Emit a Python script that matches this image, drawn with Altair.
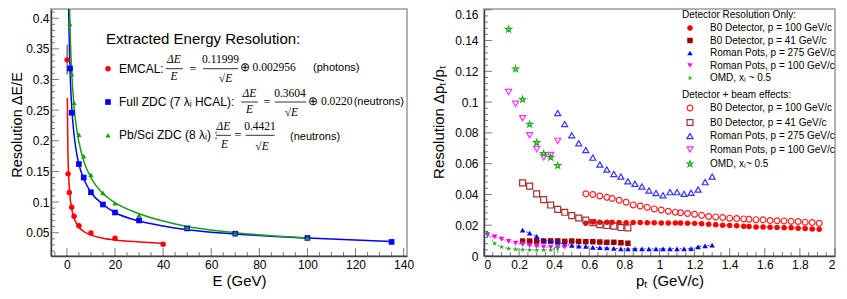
import altair as alt
import pandas as pd

FONT = "Liberation Sans"
SERIF = "Liberation Serif"

# ---------------- Left panel data ----------------
emcal_E = [0.1, 0.5, 1, 2, 3, 5, 10, 20, 40]
emcal_res = [0.332, 0.146, 0.1156, 0.0914, 0.077, 0.0613, 0.0495, 0.0409, 0.031]
emcal_err_E = [0.1]
emcal_err_lo = [0.308]
emcal_err_hi = [0.357]

zdc_E = [1.3, 2, 5, 7, 10, 15, 20, 30, 50, 70, 100, 135]
zdc_res = [0.318, 0.2457, 0.162, 0.140, 0.116, 0.096, 0.083, 0.070, 0.057, 0.0484, 0.0414, 0.035]

pbsci_E = [1.2, 2, 3, 5, 7, 10, 15, 20, 30, 50, 70, 100]
pbsci_res = [0.391, 0.309, 0.262, 0.21, 0.175, 0.1446, 0.115, 0.098, 0.0785, 0.058, 0.049, 0.0414]

emcal_fit_E = [0.2, 0.3, 0.5, 0.75, 1, 1.5, 2, 3, 4, 5, 7, 10, 15, 20, 30, 40]
emcal_fit_res = [0.27, 0.222, 0.172, 0.142, 0.124, 0.102, 0.089, 0.074, 0.065, 0.059, 0.052, 0.046, 0.041, 0.038, 0.035, 0.033]
zdc_fit_E = [0.75, 1, 1.5, 2, 3, 4, 5, 7, 10, 15, 20, 30, 40, 50, 70, 100, 135]
zdc_fit_res = [0.415, 0.36, 0.295, 0.256, 0.209, 0.181, 0.162, 0.138, 0.116, 0.096, 0.083, 0.069, 0.061, 0.055, 0.048, 0.0412, 0.0355]
pbsci_fit_E = [1.13, 1.5, 2, 3, 4, 5, 7, 10, 15, 20, 30, 40, 50, 70, 100]
pbsci_fit_res = [0.415, 0.361, 0.313, 0.255, 0.221, 0.198, 0.167, 0.140, 0.114, 0.099, 0.081, 0.069, 0.060, 0.050, 0.0415]

# ---------------- Right panel data ----------------
pt_b0_100 = [0.58, 0.62, 0.66, 0.70, 0.73, 0.77, 0.81, 0.85, 0.89, 0.93, 0.97, 1.01, 1.05, 1.09, 1.12, 1.16,
             1.20, 1.24, 1.28, 1.32, 1.36, 1.40, 1.44, 1.48, 1.51, 1.55, 1.59, 1.63, 1.67, 1.71, 1.75, 1.79,
             1.83, 1.87, 1.91]
b0_100_det = [0.0213, 0.0221, 0.0219, 0.0220, 0.0219, 0.0217, 0.0216, 0.0217, 0.0217, 0.0216, 0.0216, 0.0215,
              0.0215, 0.0214, 0.0214, 0.0213, 0.0212, 0.0209, 0.0206, 0.0203, 0.0200, 0.0198, 0.0196, 0.0193,
              0.0191, 0.0189, 0.0188, 0.0187, 0.0186, 0.0184, 0.0183, 0.0181, 0.0179, 0.0176, 0.0174]
b0_100_beam = [0.0404, 0.0400, 0.0390, 0.0381, 0.0374, 0.0362, 0.0349, 0.0332, 0.0325, 0.0316, 0.0306, 0.0299,
               0.0291, 0.0285, 0.0281, 0.0276, 0.0271, 0.0264, 0.0257, 0.0254, 0.0250, 0.0246, 0.0243, 0.0241,
               0.0239, 0.0236, 0.0235, 0.0231, 0.0229, 0.0228, 0.0225, 0.0224, 0.0220, 0.0217, 0.0213]

pt_b0_41 = [0.22, 0.26, 0.30, 0.34, 0.38, 0.42, 0.46, 0.50, 0.54, 0.58, 0.62, 0.66, 0.70, 0.74, 0.78, 0.82]
b0_41_det = [0.0097, 0.0097, 0.0097, 0.0097, 0.0098, 0.0098, 0.0095, 0.0097, 0.0095, 0.0093, 0.0093, 0.0091,
             0.0089, 0.0089, 0.0086, 0.0083]
b0_41_beam = [0.0475, 0.0454, 0.0404, 0.0366, 0.0331, 0.0303, 0.0284, 0.0262, 0.0247, 0.0234, 0.0217, 0.0204,
              0.0198, 0.0194, 0.0185, 0.0183]

pt_rp275_det = [0.22, 0.26, 0.30, 0.34, 0.38, 0.42, 0.46, 0.50, 0.54, 0.58, 0.62, 0.66, 0.70, 0.74, 0.78, 0.82,
                0.86, 0.90, 0.94, 0.98, 1.02, 1.06, 1.10, 1.14, 1.18, 1.22, 1.26, 1.30]
rp275_det = [0.0168, 0.0148, 0.0127, 0.0103, 0.0095, 0.0088, 0.0077, 0.0069, 0.0064, 0.0062, 0.0056, 0.0054,
             0.0052, 0.0050, 0.0047, 0.0047, 0.0047, 0.0046, 0.0046, 0.0046, 0.0046, 0.0047, 0.0047, 0.0047,
             0.0048, 0.0060, 0.0066, 0.0071]
pt_rp275_beam = [0.42, 0.46, 0.50, 0.54, 0.58, 0.62, 0.66, 0.70, 0.74, 0.78, 0.82, 0.86, 0.90, 0.94, 0.98, 1.02,
                 1.06, 1.10, 1.14, 1.18, 1.22, 1.26, 1.30]
rp275_beam = [0.0929, 0.0857, 0.0785, 0.0733, 0.0688, 0.0639, 0.0594, 0.0562, 0.0533, 0.0516, 0.0485, 0.0469,
              0.0452, 0.0426, 0.0409, 0.0394, 0.0415, 0.0415, 0.0404, 0.0411, 0.0432, 0.0480, 0.0516]

pt_rp100_det = [0.02, 0.06, 0.10, 0.14, 0.18, 0.22, 0.26, 0.30, 0.34, 0.38, 0.42, 0.46]
rp100_det = [0.0135, 0.0125, 0.0110, 0.0095, 0.0084, 0.0075, 0.0068, 0.0062, 0.0058, 0.0056, 0.0055, 0.0058]
pt_rp100_beam = [0.14, 0.18, 0.22, 0.26, 0.30, 0.34, 0.38, 0.42]
rp100_beam = [0.1065, 0.0989, 0.0895, 0.0785, 0.0695, 0.0641, 0.0656, 0.0748]

pt_omd_det = [0.02, 0.06, 0.10, 0.14, 0.18, 0.22, 0.26, 0.30, 0.34, 0.38, 0.42]
omd_det = [0.0150, 0.0082, 0.0058, 0.0048, 0.0044, 0.0041, 0.0040, 0.0039, 0.0039, 0.0039, 0.0054]
omd_err_pt = [0.42]
omd_err_lo = [0.0019]
omd_err_hi = [0.0075]
pt_omd_beam = [0.14, 0.18, 0.22, 0.26, 0.30, 0.34, 0.38, 0.42]
omd_beam = [0.1473, 0.1215, 0.1017, 0.0856, 0.0737, 0.0665, 0.0641, 0.0587]

labels_det = ["B0 Detector, p = 100 GeV/c", "B0 Detector, p = 41 GeV/c", "Roman Pots, p = 275 GeV/c",
              "Roman Pots, p = 100 GeV/c", "OMD, xₗ ~ 0.5"]
labels_beam = ["B0 Detector, p = 100 GeV/c", "B0 Detector, p = 41 GeV/c", "Roman Pots, p = 275 GeV/c",
               "Roman Pots, p = 100 GeV/c", "OMD, xₗ~ 0.5"]

# axis tick values
l_xmaj = [0, 20, 40, 60, 80, 100, 120, 140]
l_ymaj = [0.05, 0.1, 0.15, 0.2, 0.25, 0.3, 0.35, 0.4]
r_xmaj = [0, 0.2, 0.4, 0.6, 0.8, 1, 1.2, 1.4, 1.6, 1.8, 2]
r_ymaj = [0, 0.02, 0.04, 0.06, 0.08, 0.1, 0.12, 0.14, 0.16]

# ---------------- styles ----------------
STAR = "M0,-1L0.2245,-0.309L0.951,-0.309L0.363,0.118L0.588,0.809L0,0.382L-0.588,0.809L-0.363,0.118L-0.951,-0.309L-0.2245,-0.309Z"
det_colors = ["#ff0000", "#990000", "#0000ff", "#ff00ff", "#22aa22"]
det_shapes = ["circle", "square", "triangle-up", "triangle-down", STAR]
det_sizes = [30, 30, 30, 30, 14]
beam_colors = ["#ff2020", "#a03030", "#3333ff", "#ff33ff", "#22aa22"]
beam_shapes = ["circle", "square", "triangle-up", "triangle-down", STAR]
beam_sizes = [34, 38, 42, 42, 70]

W1, W2, H = 356, 351, 247
TICK = "#444"

one = pd.DataFrame({"k": [0]})


def text(s, x, y, size=12, font=FONT, align="left", style="normal"):
    return alt.Chart(one).mark_text(text=s, font=font, fontSize=size, align=align, baseline="middle",
                                    fontStyle=style, color="black").encode(x=alt.value(x), y=alt.value(y))


def hbar(x1, x2, y):
    return alt.Chart(one).mark_rule(color="black", strokeWidth=0.8).encode(
        x=alt.value(x1), x2=alt.value(x2), y=alt.value(y))


def symbol(shape, color, x, y, size=30):
    return alt.Chart(one).mark_point(shape=shape, filled=True, color=color, size=size, opacity=1).encode(
        x=alt.value(x), y=alt.value(y))


def ticks(xenc, yenc, xfield, yfield, xmaj, xmin, ymaj, ymin):
    out = []
    for vals, size in ((ymaj, 8), (ymin, 4)):
        out.append(alt.Chart(pd.DataFrame({yfield: vals})).mark_tick(
            orient="horizontal", size=size, thickness=1, color=TICK).encode(
            y=yenc, x=alt.value(size / 2)))
    for vals, size in ((xmaj, 8), (xmin, 4)):
        out.append(alt.Chart(pd.DataFrame({xfield: vals})).mark_tick(
            orient="vertical", size=size, thickness=1, color=TICK).encode(
            x=xenc, y=alt.value(H - size / 2)))
    return out


# ================= LEFT PANEL =================
lx = alt.Scale(domain=[-6.6, 141.4], nice=False, zero=False)
ly = alt.Scale(domain=[0.012, 0.415], nice=False, zero=False)
l_xmin = [v for v in range(-5, 141, 5) if v % 20 != 0]
l_ymin = [round(0.01 * i, 2) for i in range(2, 42) if i % 5 != 0]


def ldf(E, r):
    return pd.DataFrame({"E": E, "res": r})


xenc = alt.X("E:Q", scale=lx, axis=alt.Axis(values=l_xmaj, format="~r", title="E (GeV)", labelOverlap=False,
                                           titleX=W1 / 2 + 10))
yenc = alt.Y("res:Q", scale=ly, axis=alt.Axis(values=l_ymaj, format="~r", title="Resolution ΔE/E",
                                             labelOverlap=False, labelPadding=2, titlePadding=1,
                                             titleFontSize=14.5, titleY=H / 2 - 8))

left_layers = [
    alt.Chart(ldf(emcal_fit_E, emcal_fit_res)).mark_line(color="#ff0000", strokeWidth=1.5, clip=True,
                                                           interpolate="monotone").encode(x=xenc, y=yenc),
    alt.Chart(ldf(zdc_fit_E, zdc_fit_res)).mark_line(color="#0000ff", strokeWidth=1.5, clip=True,
                                                       interpolate="monotone").encode(x=xenc, y=yenc),
    alt.Chart(ldf(pbsci_fit_E, pbsci_fit_res)).mark_line(color="#1a9e1a", strokeWidth=1.5, clip=True,
                                                           interpolate="monotone").encode(x=xenc, y=yenc),
    alt.Chart(pd.DataFrame({"E": emcal_err_E, "res": emcal_err_lo, "hi": emcal_err_hi})).mark_rule(
        color="#333", strokeWidth=1).encode(x=xenc, y=yenc, y2="hi:Q"),
    alt.Chart(ldf(emcal_E, emcal_res)).mark_point(shape="circle", filled=True, color="#ff0000", size=30,
                                                  opacity=1, clip=True).encode(x=xenc, y=yenc),
    alt.Chart(ldf(zdc_E, zdc_res)).mark_point(shape="square", filled=True, color="#0000ff", size=32,
                                              opacity=1, clip=True).encode(x=xenc, y=yenc),
    alt.Chart(ldf(pbsci_E, pbsci_res)).mark_point(shape="triangle-up", filled=True, color="#1a9e1a", size=28,
                                                  opacity=1, clip=True).encode(x=xenc, y=yenc),
]
left_layers += ticks(xenc, yenc, "E", "res", l_xmaj, l_xmin, l_ymaj, l_ymin)

# annotation (coordinates relative to plot area)
ann = [
    text("Extracted Energy Resolution:", 55, 29.7, size=15),
    # row 1
    symbol("circle", "#ff0000", 57, 59.7, 30),
    text("EMCAL:", 68, 59.7),
    text("ΔE", 123, 51, size=11.5, font=SERIF, align="center", style="italic"),
    hbar(114.7, 132, 59.7),
    text("E", 123, 68, size=11.5, font=SERIF, align="center", style="italic"),
    text("=", 142, 59.7, size=12, font=SERIF, align="center"),
    text("0.11999", 169.5, 51, size=11.5, font=SERIF, align="center"),
    hbar(152, 187, 59.7),
    text("√E", 174.5, 69.5, size=11.5, font=SERIF, align="center", style="italic"),
    text("⊕ 0.002956", 188.7, 58.5, size=11.5, font=SERIF),
    text("(photons)", 262, 58.5, size=11),
    # row 2
    symbol("square", "#0000ff", 57, 93, 32),
    text("Full ZDC (7 λᵢ HCAL):", 68, 93),
    text("ΔE", 198.5, 84.5, size=11.5, font=SERIF, align="center", style="italic"),
    hbar(190, 207, 93),
    text("E", 198.5, 101.3, size=11.5, font=SERIF, align="center", style="italic"),
    text("=", 216, 93, size=12, font=SERIF, align="center"),
    text("0.3604", 239, 84.5, size=11.5, font=SERIF, align="center"),
    hbar(223.7, 255.3, 93),
    text("√E", 240.3, 103.5, size=11.5, font=SERIF, align="center", style="italic"),
    text("⊕ 0.0220", 257, 93, size=11.5, font=SERIF),
    text("(neutrons)", 302.7, 93, size=11),
    # row 3
    symbol("triangle-up", "#1a9e1a", 57, 126.3, 28),
    text("Pb/Sci ZDC (8 λᵢ) :", 68, 126.3),
    text("ΔE", 172.5, 118, size=11.5, font=SERIF, align="center", style="italic"),
    hbar(165, 180, 126.3),
    text("E", 173.5, 135.5, size=11.5, font=SERIF, align="center", style="italic"),
    text("=", 187, 126.3, size=12, font=SERIF, align="center"),
    text("0.4421", 209, 118, size=11.5, font=SERIF, align="center"),
    hbar(194.7, 223.7, 126.3),
    text("√E", 211, 137.5, size=11.5, font=SERIF, align="center", style="italic"),
    text("(neutrons)", 239, 127.5, size=11),
]

left = alt.layer(*left_layers, *ann).properties(width=W1, height=H)

# ================= RIGHT PANEL =================
rx = alt.Scale(domain=[0, 2], nice=False, zero=False)
ry = alt.Scale(domain=[0, 0.1605], nice=False, zero=False)
r_xmin = [round(0.05 * i, 2) for i in range(41) if i % 4 != 0]
r_ymin = [round(0.004 * i, 3) for i in range(41) if i % 5 != 0]

det_sets = [(pt_b0_100, b0_100_det), (pt_b0_41, b0_41_det), (pt_rp275_det, rp275_det),
            (pt_rp100_det, rp100_det), (pt_omd_det, omd_det)]
beam_sets = [(pt_b0_100, b0_100_beam), (pt_b0_41, b0_41_beam), (pt_rp275_beam, rp275_beam),
             (pt_rp100_beam, rp100_beam), (pt_omd_beam, omd_beam)]

det_df = pd.concat([pd.DataFrame({"pt": x, "res": y, "series": lab})
                    for (x, y), lab in zip(det_sets, labels_det)], ignore_index=True)
beam_df = pd.concat([pd.DataFrame({"pt": x, "res": y, "series": lab})
                     for (x, y), lab in zip(beam_sets, labels_beam)], ignore_index=True)

rxenc = alt.X("pt:Q", scale=rx, axis=alt.Axis(values=r_xmaj, format="~r", title="pₜ (GeV/c)",
                                             labelOverlap=False, titleX=W2 / 2 + 10))
ryenc = alt.Y("res:Q", scale=ry, axis=alt.Axis(
    values=r_ymaj, format="~r", title="Resolution Δpₜ/pₜ", labelPadding=6, labelOverlap=False,
    titlePadding=8, titleY=H / 2 - 11,
    labelBaseline={"condition": {"test": "datum.value > 0.159", "value": "top"}, "value": "middle"}))


def legend(title, y):
    return alt.Legend(title=title, orient="none", legendX=198, legendY=y, padding=0,
                      titleFont=FONT, titleFontSize=10, titleFontWeight="normal", titleColor="black",
                      labelFont=FONT, labelFontSize=10, labelColor="black", symbolSize=26,
                      symbolOffset=3, labelOffset=15, rowPadding=2.5, titlePadding=3,
                      symbolStrokeWidth=1.2)


lines = [alt.Chart(pd.DataFrame({"pt": x, "res": y})).mark_line(
    color=c, strokeDash=[2, 2], strokeWidth=1, opacity=0.8, clip=True).encode(x=rxenc, y=ryenc)
    for (x, y), c in zip(det_sets, det_colors)]

leg1 = legend("Detector Resolution Only:", 1)
det_points = alt.Chart(det_df).mark_point(filled=True, opacity=1, clip=True).encode(
    x=rxenc, y=ryenc,
    color=alt.Color("series:N", scale=alt.Scale(domain=labels_det, range=det_colors), legend=leg1),
    shape=alt.Shape("series:N", scale=alt.Scale(domain=labels_det, range=det_shapes), legend=leg1),
    size=alt.Size("series:N", scale=alt.Scale(domain=labels_det, range=det_sizes), legend=None),
)
leg2 = legend("Detector + beam effects:", 81)
beam_points = alt.Chart(beam_df).mark_point(filled=False, opacity=1, strokeWidth=1.2, clip=True).encode(
    x=rxenc, y=ryenc,
    color=alt.Color("series:N", scale=alt.Scale(domain=labels_beam, range=beam_colors), legend=leg2),
    shape=alt.Shape("series:N", scale=alt.Scale(domain=labels_beam, range=beam_shapes), legend=leg2),
    size=alt.Size("series:N", scale=alt.Scale(domain=labels_beam, range=beam_sizes), legend=None),
)
omd_err = alt.Chart(pd.DataFrame({"pt": omd_err_pt, "res": omd_err_lo, "hi": omd_err_hi})).mark_rule(
    color="#22aa22", strokeWidth=1).encode(x=rxenc, y=ryenc, y2="hi:Q")

right = alt.layer(
    det_points, beam_points, *lines, omd_err,
    *ticks(rxenc, ryenc, "pt", "res", r_xmaj, r_xmin, r_ymaj, r_ymin),
).resolve_scale(color="independent", shape="independent", size="independent").properties(width=W2, height=H)

chart = alt.hconcat(left, right, spacing=77, bounds="flush").properties(padding=0).configure(
    font=FONT
).configure_axis(
    labelFont=FONT, titleFont=FONT, labelFontSize=12, titleFontSize=15, titleFontWeight="normal",
    labelColor="black", titleColor="black", domainColor="#444", domainWidth=1.5, ticks=False,
    grid=False, labelPadding=3, titlePadding=3, labelOverlap=False
).configure_view(stroke="#999", strokeWidth=1.5)

chart.save("out.html", embed_options={"renderer": "svg", "actions": False})
